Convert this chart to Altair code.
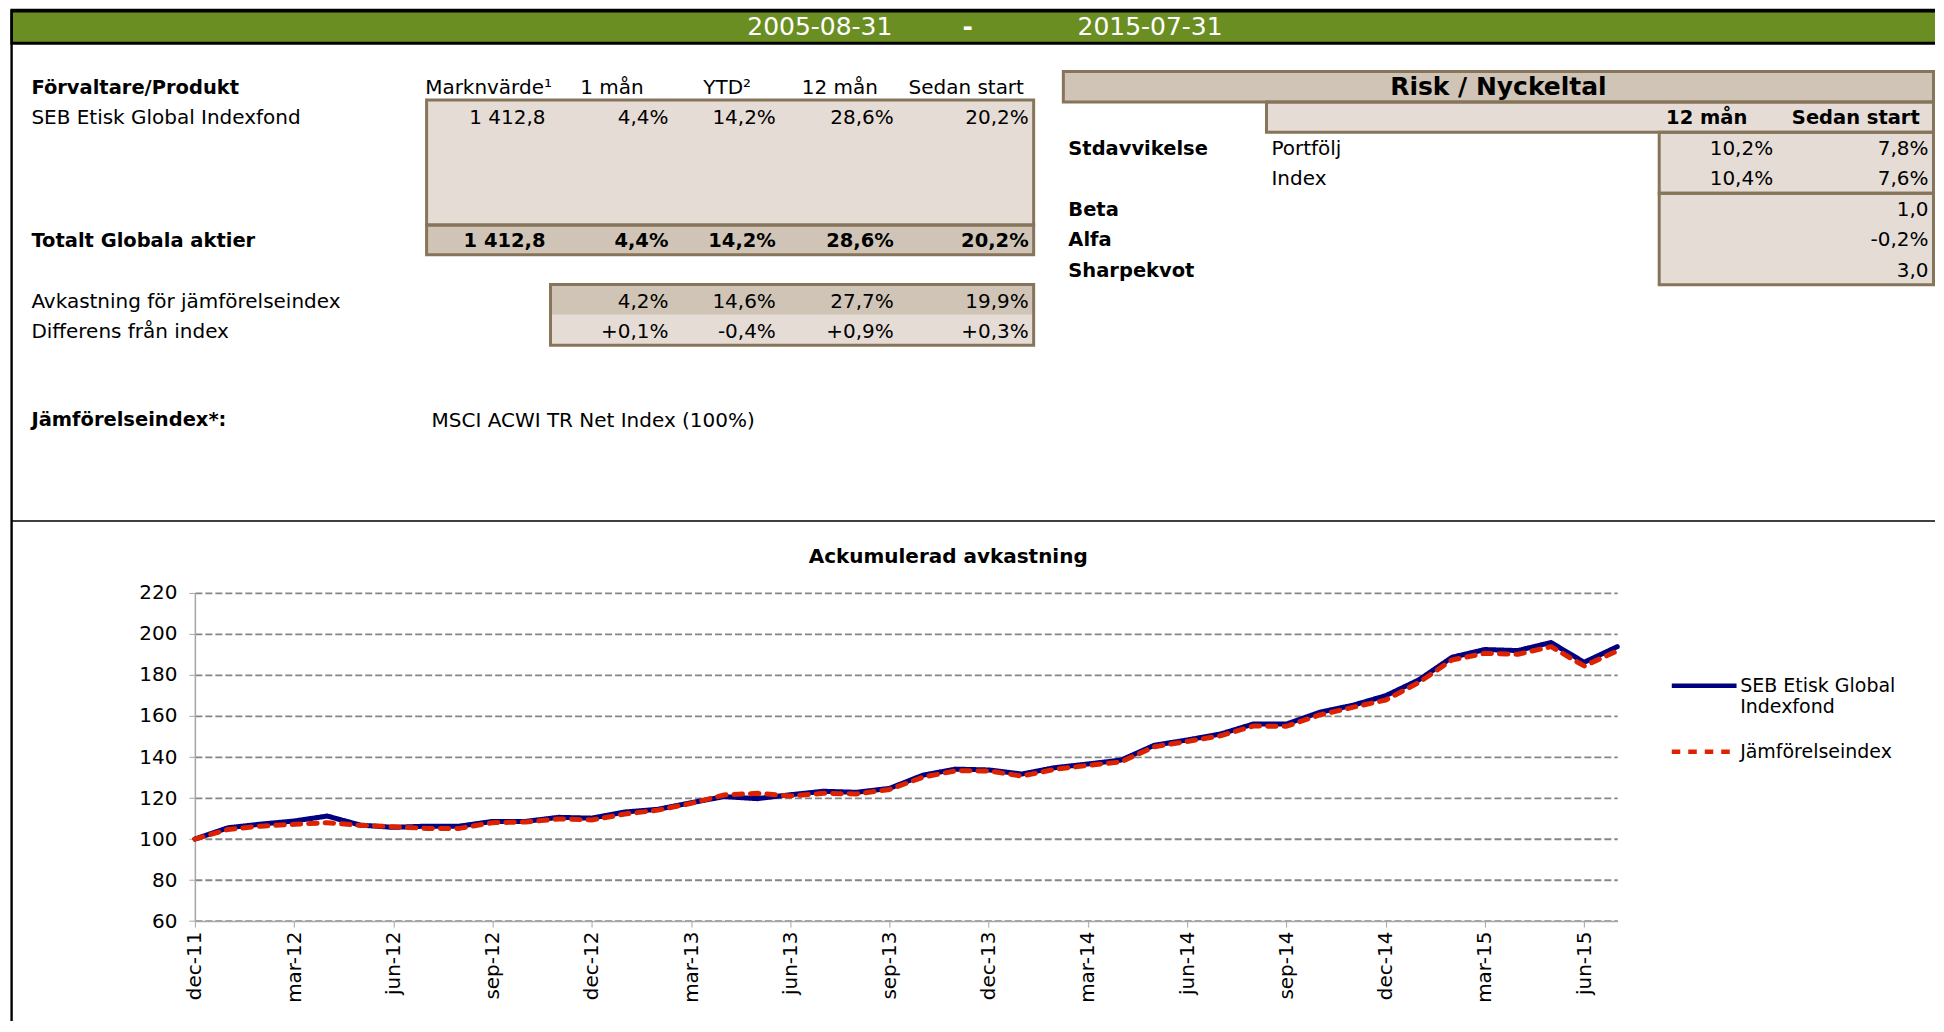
import altair as alt
import pandas as pd

FONT = "DejaVu Sans"

# ---------------- data ----------------
period_start = "2005-08-31"
period_end = "2015-07-31"

left_columns = ["Marknvärde¹", "1 mån", "YTD²", "12 mån", "Sedan start"]
table_rows = ["Förvaltare/Produkt", "SEB Etisk Global Indexfond", "", "", "",
              "Totalt Globala aktier", "", "Avkastning för jämförelseindex",
              "Differens från index", "", "", "Jämförelseindex*:"]
bold_rows = [0, 5, 11]
fund_market_value = 1412.8
fund_returns = [4.4, 14.2, 28.6, 20.2]
index_returns = [4.2, 14.6, 27.7, 19.9]
diff_returns = [0.1, -0.4, 0.9, 0.3]
benchmark_name = "MSCI ACWI TR Net Index (100%)"

risk_title = "Risk / Nyckeltal"
risk_columns = ["12 mån", "Sedan start"]
risk_group_labels = ["", "", "Stdavvikelse", "", "Beta", "Alfa", "Sharpekvot"]
risk_sub_labels = ["", "", "Portfölj", "Index", "", "", ""]
stdev_portfolio = [10.2, 7.8]
stdev_index = [10.4, 7.6]
beta_since_start = 1.0
alpha_since_start = -0.2
sharpe_since_start = 3.0

chart_title = "Ackumulerad avkastning"
series_names = ["SEB Etisk Global Indexfond", "Jämförelseindex"]
sv_months = ["jan", "feb", "mar", "apr", "maj", "jun", "jul", "aug", "sep", "okt", "nov", "dec"]
months = ["dec-11"] + [f"{sv_months[m]}-{y}" for y in (12, 13, 14) for m in range(12)] + \
         [f"{sv_months[m]}-15" for m in range(7)]
tick_labels = ["dec-11", "mar-12", "jun-12", "sep-12", "dec-12", "mar-13", "jun-13", "sep-13",
               "dec-13", "mar-14", "jun-14", "sep-14", "dec-14", "mar-15", "jun-15"]
fund_series = [100.0, 105.5, 107.3, 108.8, 111.2, 106.8, 105.7, 106.3, 106.3, 108.6, 108.6,
               110.6, 110.2, 113.2, 114.5, 117.7, 120.7, 119.7, 121.6, 123.3, 122.8, 124.7,
               131.1, 134.1, 133.7, 131.7, 134.8, 136.6, 138.5, 145.7, 148.3, 151.2, 156.1,
               156.1, 161.8, 165.2, 169.9, 177.6, 188.6, 192.4, 191.9, 195.8, 186.2, 193.8]
index_series = [100.0, 104.7, 106.3, 107.2, 108.0, 106.7, 106.0, 105.2, 105.2, 108.0, 108.3,
                109.8, 109.3, 112.2, 114.1, 117.4, 121.5, 122.3, 121.0, 122.3, 122.0, 124.2,
                130.1, 133.3, 133.2, 130.7, 134.0, 135.9, 137.6, 145.0, 147.6, 150.3, 155.1,
                155.0, 160.5, 164.2, 167.8, 176.3, 187.3, 190.6, 190.1, 193.8, 184.4, 191.7]
y_ticks = [60, 80, 100, 120, 140, 160, 180, 200, 220]

# ---------------- formatting ----------------
def sv(v, d=1):
    return f"{v:.{d}f}".replace(".", ",")

def pct(v, sign=False):
    return ("+" if (sign and v > 0) else "") + sv(v) + "%"

def mv(v):
    return f"{v:,.1f}".replace(",", " ").replace(".", ",")

# ---------------- layout (page pixels -> plot-relative pixels) ----------------
OX, OY = 194.6, 592.6          # plot origin on the page
PLOT_W, PLOT_H = 1423.4, 328.4
RIGHT = 1936

def px(x):
    return x - OX

def py(y):
    return y - OY

LIGHT = "#E6DCD6"
DARK = "#CFC4B6"
BORDER = "#86745B"
GREEN = "#6B8E23"
REG = 20
BOLD = 19.5

LX = alt.Scale(domain=[-1, 0, 1, 2, 3, 4, 5],
               range=[px(v) for v in [31, 426.5, 550.5, 673.5, 781, 899, 1034]], nice=False, zero=False)
LY = alt.Scale(domain=[0, 1, 5, 6, 7, 9, 12],
               range=[py(v) for v in [73, 99.2, 224.4, 254.2, 283.9, 344.7, 433]], nice=False, zero=False)
RX = alt.Scale(domain=[0, 1, 2, 3, 4],
               range=[px(v) for v in [1063.7, 1267, 1660, 1779, 1934.5]], nice=False, zero=False)
RY = alt.Scale(domain=[0, 7], range=[py(70.7), py(284.2)], nice=False, zero=False)


def X(f, s):
    return alt.X(f, type="quantitative", scale=s, axis=None)


def Y(f, s):
    return alt.Y(f, type="quantitative", scale=s, axis=None)


def fills(df, xs, ys, color):
    return alt.Chart(df).mark_rect(fill=color, strokeWidth=0).encode(
        x=X("c0", xs), x2="c1", y=Y("r0", ys), y2="r1")


def frames(df, xs, ys):
    return alt.Chart(df).mark_rect(fillOpacity=0, stroke=BORDER, strokeWidth=3).encode(
        x=X("c0", xs), x2="c1", y=Y("r0", ys), y2="r1")


def texts(df, xf, xs, ys, align, bold=False, dx=0, dy=2):
    return alt.Chart(df).mark_text(
        align=align, baseline="middle", font=FONT, fontSize=BOLD if bold else REG,
        fontWeight="bold" if bold else "normal", dx=dx, dy=dy, color="black"
    ).encode(x=X(xf, xs), y=Y("yc", ys), text="text:N")


one = pd.DataFrame({"k": [0]})

# ---------------- header band and frame ----------------
band_black = alt.Chart(one).mark_rect(color="black").encode(
    x=alt.value(px(10)), x2=alt.value(px(RIGHT)), y=alt.value(py(8)), y2=alt.value(py(44)))
band_green = alt.Chart(one).mark_rect(color=GREEN).encode(
    x=alt.value(px(12.4)), x2=alt.value(px(RIGHT)), y=alt.value(py(11.8)), y2=alt.value(py(41)))
date_df = pd.DataFrame({"text": [period_start, "-", period_end]})
date_layers = []
for i, xpos in enumerate([820, 968, 1150.5]):
    date_layers.append(
        alt.Chart(date_df.iloc[[i]]).mark_text(font=FONT, fontSize=25, color="white",
                                                align="center", baseline="middle",
                                                fontWeight="bold" if i == 1 else "normal")
        .encode(x=alt.value(px(xpos)), y=alt.value(py(26.5)), text="text:N"))
left_border = alt.Chart(one).mark_rule(color="black", strokeWidth=2.4).encode(
    x=alt.value(px(11.2)), y=alt.value(py(9)), y2=alt.value(py(1021)))
hline = alt.Chart(one).mark_rule(color="black", strokeWidth=1.5).encode(
    x=alt.value(px(11.2)), x2=alt.value(px(RIGHT)), y=alt.value(py(520.7)))

# ---------------- left table ----------------
lab_df = pd.DataFrame([{"text": t, "xl": -1, "yc": r + 0.5, "bold": r in bold_rows}
                       for r, t in enumerate(table_rows) if t])
head_df = pd.DataFrame([{"text": t, "xc": i + 0.5, "yc": 0.5} for i, t in enumerate(left_columns)])

fund_vals = [mv(fund_market_value)] + [pct(v) for v in fund_returns]
val_rows = []
for i, t in enumerate(fund_vals):
    val_rows.append({"text": t, "xr": i + 1, "yc": 1.5, "bold": False})
    val_rows.append({"text": t, "xr": i + 1, "yc": 5.5, "bold": True})
for i, v in enumerate(index_returns):
    val_rows.append({"text": pct(v), "xr": i + 2, "yc": 7.5, "bold": False})
for i, v in enumerate(diff_returns):
    val_rows.append({"text": pct(v, sign=True), "xr": i + 2, "yc": 8.5, "bold": False})
val_df = pd.DataFrame(val_rows)
bench_df = pd.DataFrame([{"text": benchmark_name, "xl": 0, "yc": 11.5}])

left_fill_light = pd.DataFrame([{"c0": 0, "c1": 5, "r0": 1, "r1": 5}, {"c0": 1, "c1": 5, "r0": 8, "r1": 9}])
left_fill_dark = pd.DataFrame([{"c0": 0, "c1": 5, "r0": 5, "r1": 6}, {"c0": 1, "c1": 5, "r0": 7, "r1": 8}])
left_frames = pd.DataFrame([{"c0": 0, "c1": 5, "r0": 1, "r1": 5}, {"c0": 0, "c1": 5, "r0": 5, "r1": 6},
                            {"c0": 1, "c1": 5, "r0": 7, "r1": 9}])

left_layers = [
    fills(left_fill_light, LX, LY, LIGHT),
    fills(left_fill_dark, LX, LY, DARK),
    frames(left_frames, LX, LY),
    texts(lab_df[~lab_df.bold], "xl", LX, LY, "left"),
    texts(lab_df[lab_df.bold], "xl", LX, LY, "left", bold=True, dy=1),
    texts(head_df, "xc", LX, LY, "center", dy=1),
    texts(val_df[~val_df.bold], "xr", LX, LY, "right", dx=-5),
    texts(val_df[val_df.bold], "xr", LX, LY, "right", bold=True, dx=-5, dy=1),
    texts(bench_df, "xl", LX, LY, "left", dx=5),
]

# ---------------- risk table ----------------
risk_fill_dark = pd.DataFrame([{"c0": 0, "c1": 4, "r0": 0, "r1": 1}])
risk_fill_light = pd.DataFrame([{"c0": 1, "c1": 4, "r0": 1, "r1": 2}, {"c0": 2, "c1": 4, "r0": 2, "r1": 7}])
risk_frames = pd.DataFrame([{"c0": 0, "c1": 4, "r0": 0, "r1": 1}, {"c0": 1, "c1": 4, "r0": 1, "r1": 2},
                            {"c0": 2, "c1": 4, "r0": 2, "r1": 4}, {"c0": 2, "c1": 4, "r0": 4, "r1": 7}])
risk_title_df = pd.DataFrame([{"text": risk_title, "sec": "risk", "yc": 0.5}])
risk_head_df = pd.DataFrame([{"text": t, "xc": i + 2.5, "yc": 1.5} for i, t in enumerate(risk_columns)])
risk_g_df = pd.DataFrame([{"text": t, "xl": 0, "yc": r + 0.5} for r, t in enumerate(risk_group_labels) if t])
risk_s_df = pd.DataFrame([{"text": t, "xl": 1, "yc": r + 0.5} for r, t in enumerate(risk_sub_labels) if t])
risk_vals = []
for i, v in enumerate(stdev_portfolio):
    risk_vals.append({"text": pct(v), "xr": i + 3, "yc": 2.5})
for i, v in enumerate(stdev_index):
    risk_vals.append({"text": pct(v), "xr": i + 3, "yc": 3.5})
risk_vals.append({"text": sv(beta_since_start), "xr": 4, "yc": 4.5})
risk_vals.append({"text": pct(alpha_since_start), "xr": 4, "yc": 5.5})
risk_vals.append({"text": sv(sharpe_since_start), "xr": 4, "yc": 6.5})
risk_val_df = pd.DataFrame(risk_vals)

risk_title_layer = alt.Chart(risk_title_df).mark_text(
    font=FONT, fontSize=25, fontWeight="bold", baseline="middle", color="black"
).encode(
    x=alt.X("sec:N", scale=alt.Scale(domain=["risk"], range=[px(1063.7), px(1934.5)],
                                     paddingInner=0, paddingOuter=0), axis=None),
    y=Y("yc", RY), text="text:N")

risk_layers = [
    fills(risk_fill_dark, RX, RY, DARK),
    fills(risk_fill_light, RX, RY, LIGHT),
    frames(risk_frames, RX, RY),
    risk_title_layer,
    texts(risk_head_df.iloc[[0]], "xc", RX, RY, "center", bold=True, dx=-12, dy=1),
    texts(risk_head_df.iloc[[1]], "xc", RX, RY, "center", bold=True, dy=1),
    texts(risk_g_df, "xl", RX, RY, "left", bold=True, dx=5, dy=1),
    texts(risk_s_df, "xl", RX, RY, "left", dx=5, dy=1),
    texts(risk_val_df, "xr", RX, RY, "right", dx=-5, dy=1),
]

# ---------------- line chart ----------------
rows = []
for name, vals in zip(series_names, [fund_series, index_series]):
    for m, v in zip(months, vals):
        rows.append({"month": m, "series": name, "value": v})
line_df = pd.DataFrame(rows)

legend = alt.Legend(
    title=None, orient="none", legendX=px(1670), legendY=58,
    symbolType="stroke", symbolSize=4200, symbolStrokeWidth=4.5,
    labelFont=FONT, labelFontSize=19, labelColor="black", labelLimit=400, labelOffset=1,
    rowPadding=-10,
    labelExpr="datum.label == 'SEB Etisk Global Indexfond' ? ['SEB Etisk Global', 'Indexfond'] : datum.label",
)

lines = alt.Chart(line_df).mark_line(strokeWidth=5, strokeCap="round", strokeJoin="round").encode(
    x=alt.X("month:O", sort=months, scale=alt.Scale(type="point", padding=0),
            axis=alt.Axis(values=tick_labels, title=None, labelAngle=270, labelFont=FONT,
                          labelFontSize=20, labelColor="black", tickColor="#A6A6A6",
                          domainColor="#A6A6A6", domainWidth=1.5, tickSize=6, labelPadding=4,
                          grid=False)),
    y=alt.Y("value:Q", scale=alt.Scale(domain=[60, 220], nice=False, zero=False),
            axis=alt.Axis(values=y_ticks, title=None, labelFont=FONT, labelFontSize=20,
                          labelColor="black", tickColor="#A6A6A6", domainColor="#A6A6A6",
                          domainWidth=1.5, tickSize=6, labelPadding=12, grid=True,
                          gridColor="#858585", gridDash=[7, 3], gridWidth=1.8,
                          minExtent=OX - 8, maxExtent=OX - 8)),
    color=alt.Color("series:N", sort=series_names,
                    scale=alt.Scale(domain=series_names, range=["#000080", "#DD2200"]),
                    legend=legend),
    strokeDash=alt.StrokeDash("series:N", sort=series_names,
                              scale=alt.Scale(domain=series_names, range=[[1, 0], [8.5, 8]]),
                              legend=legend),
)

title_layer = alt.Chart(pd.DataFrame({"text": [chart_title]})).mark_text(
    font=FONT, fontSize=20, fontWeight="bold", color="black", align="center", baseline="middle"
).encode(x=alt.value(px(948.5)), y=alt.value(py(557)), text="text:N")

chart = alt.layer(
    lines,
    band_black, band_green, *date_layers, left_border, hline,
    *left_layers, *risk_layers, title_layer,
).resolve_scale(x="independent", y="independent").properties(
    width=PLOT_W, height=PLOT_H, padding=0
).configure(font=FONT).configure_view(stroke=None)

chart.save("out.html", embed_options={"renderer": "svg", "actions": False})
